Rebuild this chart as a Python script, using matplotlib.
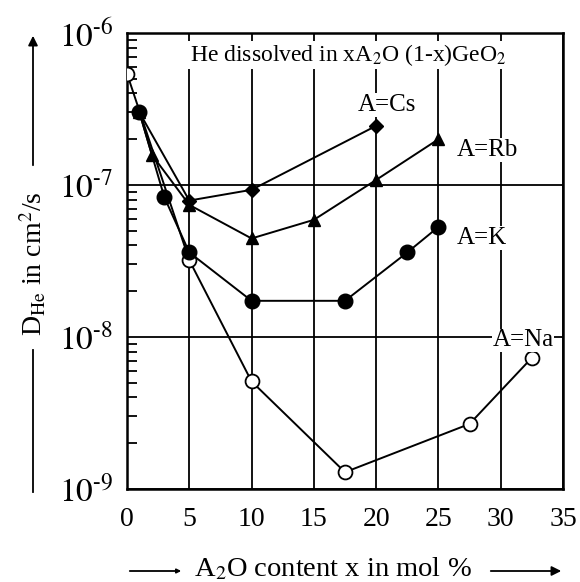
import numpy as np
import matplotlib
matplotlib.use('Agg')
import matplotlib.pyplot as plt
from matplotlib.ticker import FixedLocator, LogLocator, NullFormatter

plt.rcParams['font.family'] = 'serif'
plt.rcParams['font.serif'] = ['Liberation Serif', 'DejaVu Serif']
plt.rcParams['mathtext.fontset'] = 'stix'

# data: x = A2O content (mol %), D = He diffusivity (cm^2/s)
x_na = [0, 5, 10, 17.5, 27.5, 32.5]
d_na = [5.4e-7, 3.2e-8, 5.1e-9, 1.29e-9, 2.68e-9, 7.3e-9]
x_k = [1, 3, 5, 10, 17.5, 22.5, 25]
d_k = [3.0e-7, 8.3e-8, 3.6e-8, 1.73e-8, 1.73e-8, 3.6e-8, 5.3e-8]
x_rb = [1, 2, 5, 10, 15, 20, 25]
d_rb = [3.0e-7, 1.58e-7, 7.4e-8, 4.45e-8, 5.9e-8, 1.08e-7, 2.0e-7]
x_cs = [1, 5, 10, 20]
d_cs = [3.0e-7, 7.9e-8, 9.3e-8, 2.45e-7]

series_labels = ['A=Cs', 'A=Rb', 'A=K', 'A=Na']
label_pos = [(20.9, 3.36e-7), (28.9, 1.70e-7), (28.5, 4.48e-8), (31.8, 9.5e-9)]
ytick_vals = [1e-9, 1e-8, 1e-7, 1e-6]
ytick_labels = [r'$10^{\text{-}9}$', r'$10^{\text{-}8}$', r'$10^{\text{-}7}$', r'$10^{\text{-}6}$']

fig = plt.figure(figsize=(5.8, 5.82), dpi=100)
ax = fig.add_axes([127 / 580, 1 - 489 / 582, (563 - 127) / 580, (489 - 33) / 582])

lw = 1.4
ax.plot(x_na, d_na, '-o', color='k', lw=lw, ms=10, mfc='white', mec='k', mew=1.3, zorder=4)
ax.plot(x_cs, d_cs, '-D', color='k', lw=lw, ms=7.5, zorder=3)
ax.plot(x_rb, d_rb, '-^', color='k', lw=lw, ms=9, zorder=3)
ax.plot(x_k, d_k, '-o', color='k', lw=lw, ms=10.5, zorder=5)

ax.set_yscale('log')
ax.set_xlim(0, 35)
ax.set_ylim(1e-9, 1e-6)
ax.set_xticks(np.arange(0, 36, 5))
ax.set_xticklabels([str(v) for v in range(0, 36, 5)], fontsize=20)
ax.yaxis.set_major_locator(FixedLocator(ytick_vals))
ax.set_yticklabels(ytick_labels, fontsize=24)
ax.yaxis.set_minor_locator(LogLocator(base=10, subs=np.arange(2, 10)))
ax.yaxis.set_minor_formatter(NullFormatter())
ax.tick_params(axis='x', which='both', length=0, pad=13)
ax.tick_params(axis='y', which='major', length=0, pad=10)
ax.tick_params(axis='y', which='minor', direction='in', length=7, width=1.3, left=True, right=False)
ax.grid(True, which='major', color='k', lw=1.3)
ax.set_axisbelow(True)
for s in ax.spines.values():
    s.set_linewidth(1.8)

ax.text(5.05, 10 ** (-6 - 22 / 152), r'He dissolved in xA$_2$O (1-x)GeO$_2$',
        fontsize=17, ha='left', va='center', zorder=6,
        bbox=dict(facecolor='white', edgecolor='none', pad=1))
for lab, (lx, ly) in zip(series_labels, label_pos):
    ax.text(lx, ly, lab, fontsize=18, ha='center', va='center', zorder=6,
            bbox=dict(facecolor='white', edgecolor='none', pad=0.5))

# y label with arrows
fig.text(33 / 580, 1 - 264 / 582, r'D$_{\rm He}$ in cm$^2$/s', rotation=90,
         fontsize=20, ha='center', va='center')
fig.add_artist(matplotlib.patches.FancyArrowPatch(
    (33 / 580, 1 - 168 / 582), (33 / 580, 1 - 33 / 582), transform=fig.transFigure,
    arrowstyle='-|>', mutation_scale=14, color='k', lw=1.3))
fig.add_artist(matplotlib.lines.Line2D([33 / 580, 33 / 580], [1 - 350 / 582, 1 - 492 / 582],
                                       transform=fig.transFigure, color='k', lw=1.3))

# x label with arrows
fig.text(333 / 580, 1 - 569 / 582, r'A$_2$O content x in mol %', fontsize=20.5,
         ha='center', va='center')
fig.add_artist(matplotlib.patches.FancyArrowPatch(
    (127 / 580, 1 - 571 / 582), (184 / 580, 1 - 571 / 582), transform=fig.transFigure,
    arrowstyle='-|>', mutation_scale=6, color='k', lw=1.3))
fig.add_artist(matplotlib.patches.FancyArrowPatch(
    (488 / 580, 1 - 571 / 582), (564 / 580, 1 - 571 / 582), transform=fig.transFigure,
    arrowstyle='-|>', mutation_scale=14, color='k', lw=1.3))

fig.savefig('out.png', dpi=100)
